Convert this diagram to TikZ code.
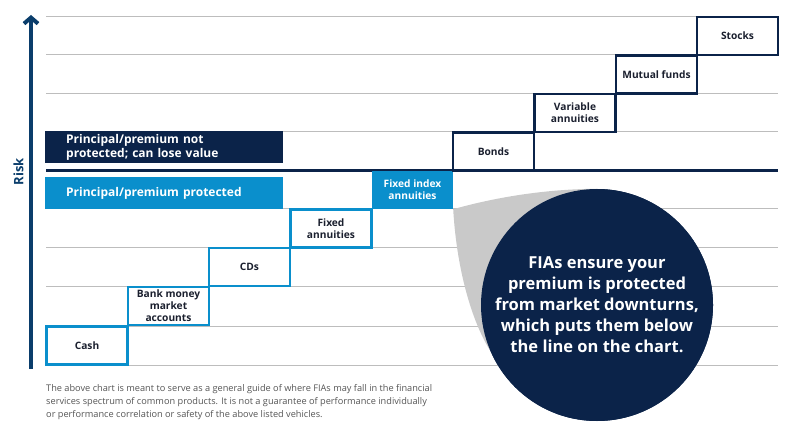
\documentclass[tikz,border=0pt]{standalone}
\usepackage{fontspec}
\setmainfont{Open Sans}
\usetikzlibrary{arrows.meta}
\definecolor{navy}{HTML}{0B2349}
\definecolor{axisblue}{HTML}{0A3D6B}
\definecolor{fiablue}{HTML}{0A8FCC}
\definecolor{gridgrey}{HTML}{BDBDBD}
\definecolor{wedgegrey}{HTML}{C9C9C9}
\definecolor{notegrey}{HTML}{555555}
\definecolor{labeltext}{HTML}{1A1F2E}
\begin{document}
\begin{tikzpicture}[x=1pt,y=-1pt,
  gridline/.style={draw=gridgrey,line width=1pt},
  stepbase/.style={rectangle,minimum width=81pt,minimum height=38pt,inner sep=1pt,
     align=center,font=\bfseries\fontsize{10.2}{12}\selectfont,text=labeltext},
  lowbox/.style={stepbase,draw=fiablue,line width=2.8pt},
  highbox/.style={stepbase,draw=navy,line width=2.8pt},
  fiabox/.style={stepbase,fill=fiablue,text=white},
  banner/.style={rectangle,minimum width=238pt,minimum height=32pt,anchor=north west,
     text width=238pt,inner sep=0pt,text=white,font=\bfseries\fontsize{12}{14}\selectfont},
]
\useasboundingbox (0,0) rectangle (791,443);
% grid lines
\foreach \yy in {17,55,94,132,209,248,286,326,365}
  \draw[gridline] (46,\yy) -- (778,\yy);
% thick divider
\draw[navy,line width=3pt] (46,171) -- (778,171);
% axis
\coordinate (axbot) at (31,369);
\coordinate (axtop) at (31,15);
\draw[axisblue,line width=4pt,-{Straight Barb[length=6pt,width=14pt]}] (axbot) -- (axtop);
\node[rotate=90,text=axisblue,font=\bfseries\fontsize{13}{15}\selectfont] (risk) at (18.5,172) {Risk};
% banners
\node[banner,fill=navy] (notprot) at (45,131) {\hspace*{21pt}Principal/premium not\\\hspace*{21pt}protected; can lose value};
\node[banner,fill=fiablue] (prot) at (45,177) {\hspace*{21pt}Principal/premium protected};
% steps
\node[lowbox] (cash) at (87,345.5) {Cash};
\node[lowbox] (bank) at (168.5,306) {Bank money\\market\\accounts};
\node[lowbox] (cds) at (249.5,267) {CDs};
\node[lowbox] (fixed) at (331,228.5) {Fixed\\annuities};
\node[fiabox] (fia) at (412.5,190) {Fixed index\\annuities};
\node[highbox] (bonds) at (493.5,151.5) {Bonds};
\node[highbox] (var) at (575,113) {Variable\\annuities};
\node[highbox] (mutual) at (656.5,74.5) {Mutual funds};
\node[highbox] (stocks) at (737.5,36) {Stocks};
% bubble
\node[circle,fill=navy,minimum size=232pt,inner sep=0pt] (bubble) at (597,305) {};
\fill[wedgegrey] (fia.south east) .. controls (500,196) and (550,189) .. (bubble.north)
   -- (bubble.center) -- (bubble.203) .. controls (474,325) and (457,275) .. (fia.south east);
\node[circle,fill=navy,minimum size=232pt,inner sep=0pt,align=center,text=white,
   font=\bfseries\fontsize{16.5}{21}\selectfont] (bubbletext) at (bubble.center)
   {FIAs ensure your\\premium is protected\\from market downturns,\\which puts them below\\the line on the chart.};
% footnote
\node[anchor=north west,inner sep=0pt,align=left,text=notegrey,
   font=\fontsize{9.2}{13}\selectfont] (note) at (46,384)
   {The above chart is meant to serve as a general guide of where FIAs may fall in the financial\\
    services spectrum of common products. It is not a guarantee of performance individually\\
    or performance correlation or safety of the above listed vehicles.};
\end{tikzpicture}
\end{document}
